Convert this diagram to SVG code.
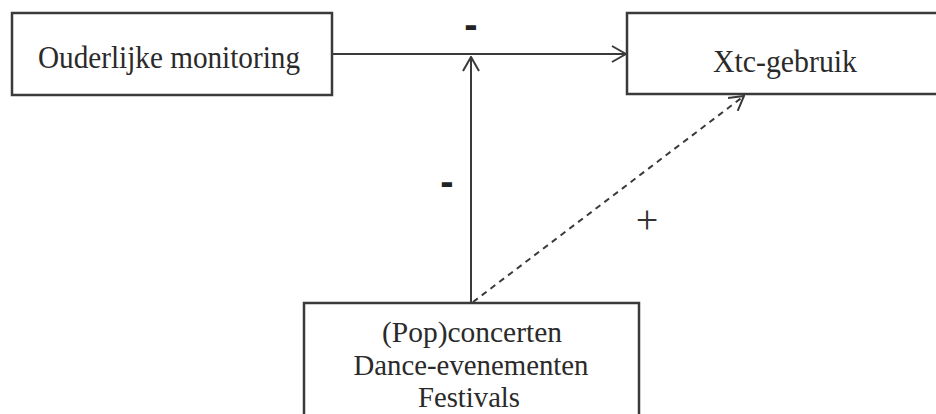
<svg xmlns="http://www.w3.org/2000/svg" width="936" height="414" viewBox="0 0 936 414">
<style>
.box{fill:#fff;stroke:#3a3a3a;stroke-width:2.5}
.t{font-family:"Liberation Serif","Times New Roman","DejaVu Serif",serif;fill:#2a2a2a;text-anchor:middle}
.c{fill:none;stroke:#3a3a3a;stroke-width:2}
.d{stroke-dasharray:6 5}
.s{font-family:"Liberation Sans",Arial,sans-serif;font-weight:bold;fill:#222;text-anchor:middle}
</style>
<defs>
<marker id="ah" viewBox="0 0 16 18" refX="15" refY="9" markerWidth="16" markerHeight="18" markerUnits="userSpaceOnUse" orient="auto">
<path d="M1,1 L15,9 L1,17" fill="none" stroke="#3a3a3a" stroke-width="2"/>
</marker>
</defs>
<rect width="936" height="414" fill="#fff"/>
<g id="connectors">
<line class="c" x1="332" y1="54" x2="626" y2="54" marker-end="url(#ah)"/>
<line class="c" x1="471" y1="303" x2="471" y2="57" marker-end="url(#ah)"/>
<line class="c d" x1="473" y1="302" x2="744" y2="96" marker-end="url(#ah)"/>
</g>
<g id="node-ouder">
<rect class="box" x="12" y="13" width="320" height="82"/>
<text class="t" x="169" y="68" font-size="32" textLength="262" lengthAdjust="spacingAndGlyphs">Ouderlijke monitoring</text>
</g>
<g id="node-xtc">
<rect class="box" x="627" y="13" width="320" height="81"/>
<text class="t" x="785" y="72" font-size="32" textLength="144" lengthAdjust="spacingAndGlyphs">Xtc-gebruik</text>
</g>
<g id="node-events">
<rect class="box" x="304" y="303" width="335" height="120"/>
<text class="t" x="472" y="342" font-size="29" textLength="180" lengthAdjust="spacingAndGlyphs">(Pop)concerten</text>
<text class="t" x="471" y="375" font-size="29" textLength="235" lengthAdjust="spacingAndGlyphs">Dance-evenementen</text>
<text class="t" x="469" y="407" font-size="29" textLength="102" lengthAdjust="spacingAndGlyphs">Festivals</text>
</g>
<g id="labels">
<text class="s" x="471" y="38" font-size="40">-</text>
<text class="s" x="447" y="195" font-size="40">-</text>
<text class="t" x="647" y="233" font-size="40" style="fill:#333">+</text>
</g>
</svg>
